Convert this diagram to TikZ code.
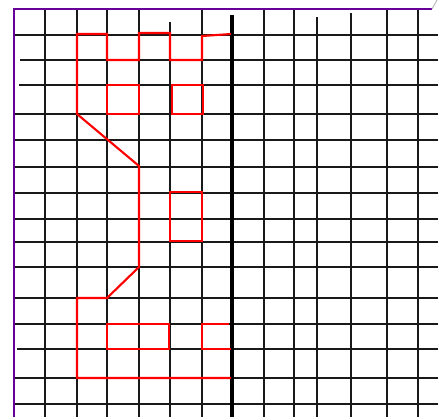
\documentclass[tikz,border=0pt]{standalone}
\usepackage{tikz}

\tikzset{
  gridline/.style={black!90, line width=0.65pt},
  outline/.style={red, line width=1.2pt, line join=miter},
  mirror line/.style={black, line width=2.4pt},
  frame/.style={violet!80!blue, line width=1.6pt},
}

\begin{document}
\begin{tikzpicture}[x=0.02cm, y=-0.02cm]
    \useasboundingbox (0,0) rectangle (438,417);

    % ======== GRID ========
    % vertical lines (x / top end)
    \foreach \gx/\gtop in {45/9, 77/9, 107/9, 139/9, 170/22, 202/9,
                           264/9, 294/9, 317/17, 351/13, 387/9, 418/9} {
      \draw[gridline] (\gx, \gtop) -- (\gx, 417);
    }
    % horizontal lines (y / left end)
    \foreach \gy/\gleft in {35/14, 60/20, 85/19, 114/14, 140/14, 167/14,
                            193/14, 219/14, 242/14, 267/14, 298/14,
                            324/14, 349/17, 378/14, 404/14} {
      \draw[gridline] (\gleft, \gy) -- (438, \gy);
    }

    % ======== FRAME ========
    \draw[frame] (14, 417) -- (14, 9) -- (432, 9);
    \draw[gray!60, line width=0.5pt] (432, 9) -- (437, 0);

    % ======== MIRROR LINE ========
    \draw[mirror line] (232, 15) -- (232, 417);

    % ======== RED FIGURE (left half) ========
    % outer contour
    \draw[outline] (231, 34) -- (202, 36) -- (202, 60) -- (170, 60)
      -- (170, 33) -- (139, 33) -- (139, 60) -- (107, 60) -- (107, 34)
      -- (77, 34) -- (77, 114) -- (139, 166) -- (139, 267)
      -- (107, 298) -- (77, 298) -- (77, 378) -- (231, 378);

    % windows
    \draw[outline] (107, 85) rectangle (139, 114);
    \draw[outline] (172, 85) rectangle (203, 114);
    \draw[outline] (170, 192) rectangle (202, 241);
    \draw[outline] (107, 324) rectangle (169, 349);
    \draw[outline] (229, 324) -- (202, 324) -- (202, 349) -- (231, 349);

\end{tikzpicture}
\end{document}
